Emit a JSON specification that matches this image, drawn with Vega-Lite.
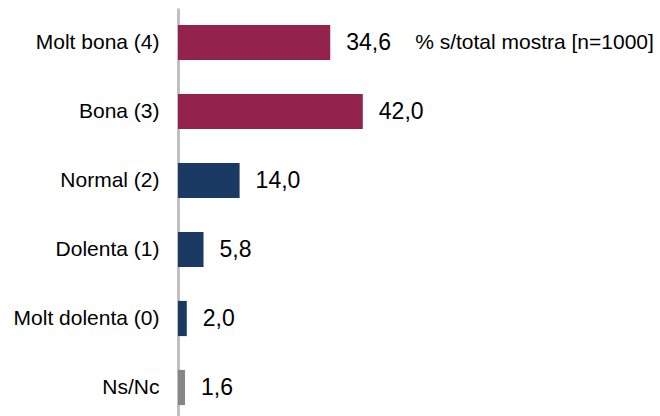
{
  "$schema": "https://vega.github.io/schema/vega-lite/v6.json",
  "width": 482,
  "height": 414,
  "autosize": "none",
  "padding": {"left": 178, "top": 8, "right": 0, "bottom": 0},
  "config": {
    "view": {"stroke": null},
    "font": "Liberation Sans",
    "locale": {"number": {"decimal": ",", "thousands": ".", "grouping": [3], "currency": ["", " €"]}}
  },
  "data": {
    "values": [
      {"cat": "Molt bona (4)", "value": 34.6, "grp": "bona"},
      {"cat": "Bona (3)", "value": 42.0, "grp": "bona"},
      {"cat": "Normal (2)", "value": 14.0, "grp": "mid"},
      {"cat": "Dolenta (1)", "value": 5.8, "grp": "mid"},
      {"cat": "Molt dolenta (0)", "value": 2.0, "grp": "mid"},
      {"cat": "Ns/Nc", "value": 1.6, "grp": "ns"}
    ]
  },
  "encoding": {
    "y": {
      "field": "cat", "type": "nominal", "sort": null,
      "scale": {"paddingInner": 0.49, "paddingOuter": 0.245},
      "axis": {
        "title": null, "ticks": false, "labelFontSize": 21, "labelColor": "#000000",
        "labelPadding": 19, "domainColor": "#c0c0c0", "domainWidth": 3, "labelFont": "Liberation Sans",
        "labelLimit": 300
      }
    },
    "x": {"field": "value", "type": "quantitative", "scale": {"domain": [0, 109.55]}, "axis": null}
  },
  "layer": [
    {
      "mark": {"type": "bar"},
      "encoding": {
        "color": {
          "field": "grp", "type": "nominal", "legend": null,
          "scale": {"domain": ["bona", "mid", "ns"], "range": ["#93234b", "#1b3a63", "#868686"]}
        }
      }
    },
    {
      "mark": {"type": "text", "align": "left", "baseline": "middle", "dx": 16, "fontSize": 23, "color": "#000000"},
      "encoding": {"text": {"field": "value", "type": "quantitative", "format": ".1f"}}
    },
    {
      "data": {"values": [{"cat": "Molt bona (4)", "value": 53.9, "note": "% s/total mostra [n=1000]"}]},
      "mark": {"type": "text", "align": "left", "baseline": "middle", "fontSize": 21, "color": "#000000"},
      "encoding": {"text": {"field": "note"}}
    }
  ]
}
